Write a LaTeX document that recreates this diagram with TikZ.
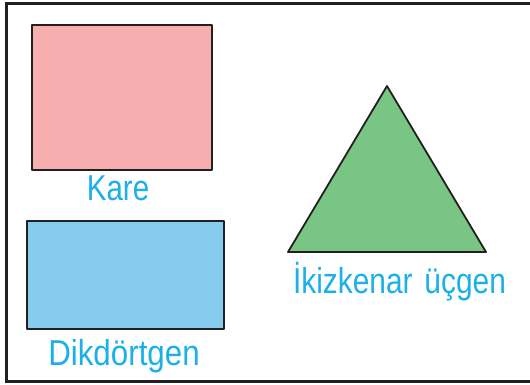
\documentclass[tikz,border=0pt]{standalone}
\usepackage{fontspec}
\setmainfont{Liberation Sans}
\definecolor{pinkfill}{HTML}{F7AEAE}
\definecolor{bluefill}{HTML}{85CCEE}
\definecolor{greenfill}{HTML}{78C584}
\definecolor{labelblue}{HTML}{1CB0E8}
\definecolor{edge}{HTML}{231F20}
\tikzset{
  figbox/.style={draw=edge, line width=1.8pt, line join=round},
  lbl/.style={text=labelblue, font=\fontsize{36}{40}\selectfont, inner sep=0pt, anchor=base},
}
\begin{document}
\begin{tikzpicture}[x=1pt,y=-1pt]
\useasboundingbox (0,0) rectangle (530,385);
\clip (0,0) rectangle (530,385);
\draw[edge, line width=3pt] (6,3.5) rectangle (540,381.5);
\draw[figbox, fill=pinkfill] (32,25) rectangle (212,170);
\node[lbl] (kare) at (118,200) {\scalebox{0.82}[1]{Kare}};
\draw[figbox, fill=bluefill] (27,221) rectangle (224,329);
\node[lbl] (dik) at (124,365) {\scalebox{0.87}[1]{Dikdörtgen}};
\draw[figbox, fill=greenfill] (387,86) -- (486,252) -- (288,252) -- cycle;
\node[lbl] (ikiz) at (399.5,293) {\scalebox{0.83}[1]{İkizkenar\hspace{0.12em} üçgen}};
\end{tikzpicture}
\end{document}
